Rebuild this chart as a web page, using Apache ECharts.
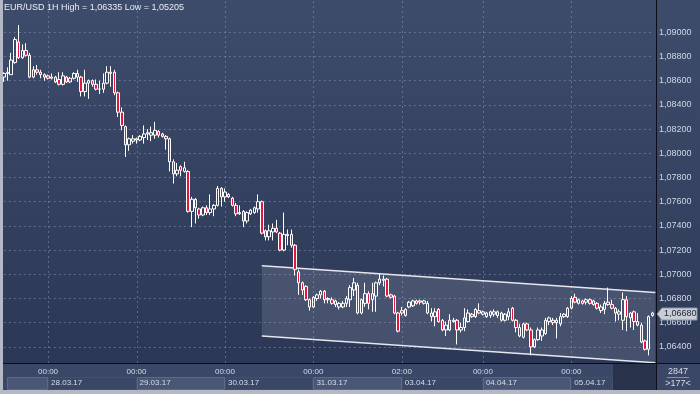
<!DOCTYPE html>
<html><head><meta charset="utf-8">
<script src="https://cdn.jsdelivr.net/npm/echarts@6/dist/echarts.min.js"></script>
<style>html,body{margin:0;padding:0;background:#34405c;}#c{width:700px;height:394px;}</style>
</head><body><div id="c"></div>
<script>
const titleText = 'EUR/USD 1H High = 1,06335 Low = 1,05205';
const days = ['27.03.17','28.03.17','29.03.17','30.03.17','31.03.17','03.04.17','04.04.17','05.04.17'];
const firstHour = [12,0,0,0,0,2,0,0];
const lastHour  = [23,23,23,23,23,23,23,22];
const open = [
1.0863,1.0867,1.0865,1.0875,1.0892,1.0879,1.0885,1.0881,1.0863,1.0869,
1.0867,1.0865,1.0864,1.0862,1.0863,1.0861,1.0857,1.0863,1.0859,1.0862,
1.0866,1.0863,1.0851,1.0858,1.0860,1.0857,1.0853,1.0853,1.0858,1.0867,
1.0867,1.0850,1.0834,1.0822,1.0807,1.0810,1.0811,1.0811,1.0813,1.0816,
1.0815,1.0815,1.0818,1.0816,1.0814,1.0812,1.0793,1.0783,1.0789,1.0785,
1.0785,1.0752,1.0762,1.0754,1.0749,1.0755,1.0751,1.0754,1.0757,1.0771,
1.0764,1.0766,1.0763,1.0757,1.0750,1.0752,1.0744,1.0750,1.0751,1.0754,
1.0760,1.0736,1.0731,1.0735,1.0738,1.0734,1.0720,1.0733,1.0733,1.0724,
1.0702,1.0693,1.0690,1.0679,1.0673,1.0680,1.0683,1.0686,1.0679,1.0679,
1.0678,1.0673,1.0673,1.0676,1.0679,1.0687,1.0691,1.0668,1.0676,1.0684,
1.0679,1.0682,1.0693,1.0695,1.0696,1.0683,1.0682,1.0668,1.0670,1.0666,
1.0673,1.0674,1.0678,1.0678,1.0676,1.0676,1.0668,1.0665,1.0671,1.0662,
1.0654,1.0654,1.0662,1.0662,1.0654,1.0656,1.0661,1.0667,1.0665,1.0670,
1.0667,1.0665,1.0666,1.0667,1.0669,1.0668,1.0662,1.0665,1.0672,1.0662,
1.0656,1.0648,1.0659,1.0654,1.0640,1.0646,1.0649,1.0651,1.0661,1.0662,
1.0660,1.0659,1.0665,1.0665,1.0672,1.0681,1.0676,1.0678,1.0677,1.0679,
1.0678,1.0676,1.0670,1.0671,1.0677,1.0675,1.0672,1.0667,1.0662,1.0679,
1.0664,1.0669,1.0661,1.0658,1.0645,1.0638,1.0666];
const close = [
1.0866,1.0866,1.0877,1.0894,1.0879,1.0885,1.0881,1.0863,1.0869,1.0867,
1.0865,1.0863,1.0862,1.0863,1.0859,1.0857,1.0864,1.0859,1.0862,1.0866,
1.0863,1.0851,1.0858,1.0860,1.0857,1.0853,1.0853,1.0858,1.0867,1.0866,
1.0850,1.0834,1.0823,1.0807,1.0812,1.0812,1.0812,1.0814,1.0816,1.0817,
1.0817,1.0819,1.0815,1.0814,1.0812,1.0793,1.0783,1.0786,1.0786,1.0788,
1.0752,1.0762,1.0755,1.0749,1.0755,1.0751,1.0754,1.0757,1.0771,1.0764,
1.0768,1.0764,1.0757,1.0750,1.0751,1.0744,1.0751,1.0753,1.0755,1.0760,
1.0734,1.0731,1.0736,1.0738,1.0735,1.0720,1.0733,1.0732,1.0724,1.0704,
1.0693,1.0687,1.0679,1.0673,1.0681,1.0683,1.0686,1.0679,1.0680,1.0676,
1.0675,1.0676,1.0676,1.0680,1.0689,1.0693,1.0668,1.0679,1.0684,1.0676,
1.0684,1.0693,1.0696,1.0696,1.0682,1.0681,1.0668,1.0653,1.0668,1.0671,
1.0677,1.0678,1.0676,1.0677,1.0678,1.0668,1.0665,1.0669,1.0661,1.0654,
1.0658,1.0662,1.0661,1.0654,1.0656,1.0664,1.0668,1.0665,1.0671,1.0668,
1.0669,1.0668,1.0669,1.0669,1.0666,1.0662,1.0667,1.0669,1.0662,1.0656,
1.0649,1.0659,1.0654,1.0640,1.0646,1.0654,1.0654,1.0662,1.0664,1.0660,
1.0662,1.0665,1.0667,1.0672,1.0680,1.0677,1.0679,1.0676,1.0679,1.0676,
1.0675,1.0672,1.0673,1.0676,1.0675,1.0672,1.0668,1.0669,1.0679,1.0665,
1.0668,1.0661,1.0658,1.0644,1.0638,1.0665,1.0668];
const low = [
1.0859,1.0860,1.0865,1.0874,1.0878,1.0878,1.0880,1.0862,1.0862,1.0865,
1.0862,1.0860,1.0861,1.0861,1.0858,1.0856,1.0856,1.0858,1.0858,1.0861,
1.0859,1.0847,1.0847,1.0845,1.0855,1.0852,1.0849,1.0850,1.0857,1.0855,
1.0848,1.0830,1.0819,1.0797,1.0802,1.0808,1.0808,1.0810,1.0808,1.0811,
1.0810,1.0812,1.0813,1.0813,1.0803,1.0785,1.0775,1.0781,1.0781,1.0784,
1.0751,1.0739,1.0742,1.0746,1.0748,1.0749,1.0749,1.0748,1.0756,1.0756,
1.0760,1.0763,1.0756,1.0748,1.0749,1.0739,1.0742,1.0749,1.0750,1.0751,
1.0733,1.0728,1.0728,1.0728,1.0734,1.0719,1.0719,1.0724,1.0722,1.0699,
1.0683,1.0683,1.0678,1.0670,1.0672,1.0678,1.0680,1.0676,1.0676,1.0675,
1.0673,1.0671,1.0672,1.0673,1.0673,1.0682,1.0667,1.0667,1.0673,1.0671,
1.0669,1.0669,1.0691,1.0690,1.0681,1.0680,1.0667,1.0652,1.0666,1.0665,
1.0672,1.0673,1.0675,1.0675,1.0675,1.0667,1.0661,1.0657,1.0660,1.0653,
1.0649,1.0653,1.0660,1.0642,1.0652,1.0653,1.0660,1.0664,1.0664,1.0667,
1.0666,1.0664,1.0664,1.0665,1.0664,1.0661,1.0661,1.0662,1.0661,1.0652,
1.0648,1.0647,1.0653,1.0633,1.0639,1.0645,1.0645,1.0650,1.0658,1.0658,
1.0647,1.0657,1.0664,1.0664,1.0671,1.0676,1.0675,1.0675,1.0675,1.0675,
1.0674,1.0671,1.0668,1.0667,1.0674,1.0671,1.0661,1.0662,1.0654,1.0653,
1.0656,1.0654,1.0657,1.0643,1.0637,1.0633,1.0665];
const high = [
1.0867,1.0871,1.0883,1.0896,1.0906,1.0890,1.0891,1.0883,1.0872,1.0873,
1.0869,1.0866,1.0865,1.0866,1.0864,1.0867,1.0867,1.0864,1.0863,1.0867,
1.0869,1.0864,1.0869,1.0861,1.0861,1.0861,1.0860,1.0866,1.0872,1.0872,
1.0869,1.0851,1.0838,1.0823,1.0813,1.0815,1.0813,1.0815,1.0823,1.0820,
1.0822,1.0826,1.0819,1.0817,1.0815,1.0813,1.0795,1.0792,1.0790,1.0793,
1.0786,1.0764,1.0763,1.0755,1.0756,1.0757,1.0766,1.0758,1.0773,1.0772,
1.0771,1.0767,1.0764,1.0759,1.0757,1.0753,1.0752,1.0754,1.0756,1.0766,
1.0761,1.0737,1.0741,1.0742,1.0745,1.0735,1.0751,1.0737,1.0737,1.0725,
1.0704,1.0694,1.0691,1.0680,1.0682,1.0684,1.0687,1.0687,1.0681,1.0681,
1.0679,1.0677,1.0678,1.0682,1.0691,1.0697,1.0693,1.0680,1.0693,1.0686,
1.0693,1.0694,1.0700,1.0699,1.0697,1.0684,1.0683,1.0669,1.0673,1.0672,
1.0678,1.0679,1.0679,1.0679,1.0679,1.0678,1.0672,1.0672,1.0672,1.0663,
1.0661,1.0667,1.0664,1.0663,1.0660,1.0672,1.0671,1.0668,1.0672,1.0676,
1.0670,1.0669,1.0670,1.0671,1.0670,1.0669,1.0668,1.0672,1.0673,1.0663,
1.0659,1.0660,1.0660,1.0656,1.0647,1.0656,1.0656,1.0664,1.0665,1.0664,
1.0664,1.0668,1.0668,1.0673,1.0682,1.0684,1.0680,1.0679,1.0680,1.0680,
1.0679,1.0677,1.0675,1.0678,1.0689,1.0679,1.0673,1.0671,1.0685,1.0682,
1.0669,1.0670,1.0668,1.0660,1.0646,1.0666,1.0669];
// trend channel drawn on the chart (bar index, price)
const channelX = [70, 176.8];
const channelTop = [1.0707, 1.0685];
const channelBottom = [1.0649, 1.0627];
const barCount = '2847';
const visibleBars = '>177<';

// categories
const categories = [];
const isDayStart = [];
days.forEach((d, k) => {
  for (let h = firstHour[k]; h <= lastHour[k]; h++) {
    categories.push(d + ' ' + (h < 10 ? '0' : '') + h + ':00');
    isDayStart.push(k > 0 && h === firstHour[k]);
  }
});
const dayStartIdx = [];
isDayStart.forEach((v, i) => { if (v) dayStartIdx.push(i); });
const candle = open.map((o, i) => [o, close[i], low[i], high[i]]);

const FONT = '"Liberation Sans", Arial, sans-serif';
const GRID = 'rgba(140,156,188,0.5)';
const chart = echarts.init(document.getElementById('c'), null, {renderer: 'canvas', width: 700, height: 394});

const option = {
  animation: false,
  backgroundColor: '#34405c',
  title: {text: titleText, left: 4, top: 3, padding: 0, textStyle: {color: '#e9edf4', fontSize: 9, fontWeight: 'normal', fontFamily: FONT}},
  grid: {left: 3.84, top: 32.3, width: 648.56, height: 314.6, containLabel: false, outerBoundsMode: 'none'},
  xAxis: [
    {type: 'category', data: categories, boundaryGap: false,
     axisLine: {show: false}, axisTick: {show: false}, splitLine: {show: false},
     axisLabel: {interval: (i) => isDayStart[i], formatter: (v) => v.split(' ')[1], color: '#d6dce8', fontSize: 8, fontFamily: FONT, margin: 21}},
    {type: 'category', data: categories, boundaryGap: false, position: 'bottom',
     axisLine: {show: false}, axisTick: {show: false}, splitLine: {show: false},
     axisLabel: {interval: (i) => isDayStart[i], formatter: (v) => v.split(' ')[0], color: '#d6dce8', fontSize: 8, fontFamily: FONT, margin: 32, align: 'left', padding: [0, 0, 0, 3]}},
    {type: 'value', min: 0, max: categories.length - 1, show: false}
  ],
  yAxis: {type: 'value', position: 'right', min: 1.064, max: 1.090, interval: 0.002, offset: 3.6,
    axisLine: {show: false}, axisTick: {show: false},
    axisLabel: {formatter: (v) => v.toFixed(5).replace('.', ','), color: '#cfd7e6', fontSize: 9, fontFamily: FONT, margin: 3},
    splitLine: {show: true, lineStyle: {color: GRID, type: [2, 3], width: 1}}},
  series: [
    {type: 'custom', xAxisIndex: 2, yAxisIndex: 0, silent: true, z: 1, clip: false,
     data: dayStartIdx.map(i => [i, 1.07]),
     renderItem: (p, api) => {
       const x = Math.round(api.coord([api.value(0), api.value(1)])[0]) + 0.5;
       return {type: 'line', shape: {x1: x, y1: 1, x2: x, y2: 363}, style: {stroke: GRID, lineWidth: 1, lineDash: [2, 3]}};
     }},
    {type: 'custom', xAxisIndex: 2, yAxisIndex: 0, silent: true, z: 1, clip: false,
     data: [[channelX[0], channelTop[0]]],
     renderItem: (p, api) => {
       const a = api.coord([channelX[0], channelTop[0]]);
       const b = api.coord([channelX[1], channelTop[1]]);
       const c = api.coord([channelX[1], channelBottom[1]]);
       const d = api.coord([channelX[0], channelBottom[0]]);
       return {type: 'group', children: [
         {type: 'polygon', shape: {points: [a, b, c, d]}, style: {fill: 'rgba(205,212,228,0.16)'}},
         {type: 'line', shape: {x1: a[0], y1: a[1], x2: b[0], y2: b[1]}, style: {stroke: '#e4e7ee', lineWidth: 1.5}},
         {type: 'line', shape: {x1: d[0], y1: d[1], x2: c[0], y2: c[1]}, style: {stroke: '#e4e7ee', lineWidth: 1.5}}
       ]};
     }},
    {type: 'candlestick', xAxisIndex: 0, yAxisIndex: 0, data: candle, barWidth: 3, clip: false, z: 3,
     itemStyle: {color: 'rgba(0,0,0,0)', color0: '#e3173e', borderColor: '#ffffff', borderColor0: '#ffffff', borderWidth: 1}}
  ]
};
chart.setOption(option);

const lastClose = close[close.length - 1];
const ty = Math.round(chart.convertToPixel({yAxisIndex: 0}, lastClose)) + 1;
const grad = (a, b) => new echarts.graphic.LinearGradient(0, 0, 0, 1, [{offset: 0, color: a}, {offset: 1, color: b}]);
// date cells under the time labels (alternating shades)
const cellEdges = [7].concat(dayStartIdx.map(i => Math.round(chart.convertToPixel({xAxisIndex: 0}, i)))).concat([613]);
const cells = [];
for (let k = 0; k < cellEdges.length - 1; k++) {
  cells.push({type: 'rect', z: -8, shape: {x: cellEdges[k] + 0.5, y: 377.5, width: cellEdges[k + 1] - cellEdges[k] - 1, height: 12},
    style: {fill: k % 2 === 0 ? '#4a5675' : '#3b4766', stroke: k % 2 === 0 ? '#5d6985' : '#44506e', lineWidth: 1}});
}
chart.setOption({graphic: {elements: [
  {type: 'rect', z: -10, shape: {x: 3, y: 0, width: 653, height: 363}, style: {fill: grad('#3e4c6b', '#2b3755')}},
  {type: 'rect', z: -10, shape: {x: 657, y: 0, width: 43, height: 363}, style: {fill: grad('#3e4c6b', '#2e3a58')}},
  {type: 'rect', z: -10, shape: {x: 0, y: 364, width: 700, height: 26}, style: {fill: '#3b4766'}},
  {type: 'rect', z: -9, shape: {x: 613, y: 364, width: 43, height: 26}, style: {fill: '#28324a'}}
].concat(cells).concat([
  {type: 'rect', z: 50, shape: {x: 656, y: 0, width: 1, height: 390}, style: {fill: '#0a0e16'}},
  {type: 'rect', z: 50, shape: {x: 3, y: 363, width: 697, height: 1}, style: {fill: '#0a0e16'}},
  {type: 'rect', z: 50, shape: {x: 0, y: 0, width: 3, height: 394}, style: {fill: '#b3b9c5'}},
  {type: 'rect', z: 50, shape: {x: 0, y: 390, width: 700, height: 4}, style: {fill: '#b3b9c5'}},
  {type: 'text', z: 50, style: {text: barCount, x: 678, y: 372, align: 'center', verticalAlign: 'middle', fill: '#d6dce8', font: '9px ' + FONT}},
  {type: 'rect', z: 50, shape: {x: 667, y: 377, width: 22, height: 1}, style: {fill: '#8892a6'}},
  {type: 'text', z: 50, style: {text: visibleBars, x: 678, y: 384, align: 'center', verticalAlign: 'middle', fill: '#d6dce8', font: '9px ' + FONT}},
  {type: 'polygon', z: 60, shape: {points: [[657, ty], [662, ty - 6], [697, ty - 6], [697, ty + 6], [662, ty + 6]]}, style: {fill: '#c9cdd5', stroke: '#8d95a6', lineWidth: 1}},
  {type: 'text', z: 61, style: {text: lastClose.toFixed(5).replace('.', ','), x: 664, y: ty, verticalAlign: 'middle', fill: '#1c2335', font: '9px ' + FONT}}
])}});
</script>
</body></html>
